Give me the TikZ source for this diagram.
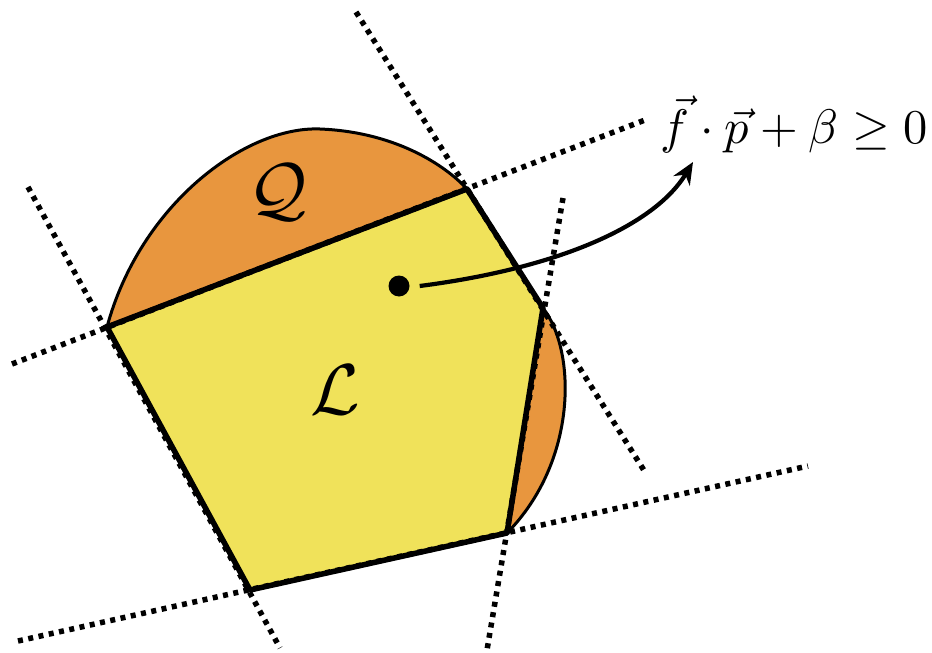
\documentclass[tikz,border=0pt]{standalone}
\usepackage{amsmath,amssymb}
\usetikzlibrary{arrows.meta}
\definecolor{qorange}{RGB}{232,150,62}
\definecolor{lyellow}{RGB}{240,226,90}
\begin{document}
\begin{tikzpicture}[x=1pt,y=-1pt,
  halfspace/.style={line width=5.5pt,dash pattern=on 5pt off 5.5pt},
  edge/.style={line width=5.5pt,line join=round},
  capline/.style={line width=3pt},
  biglabel/.style={inner sep=0pt}]
\useasboundingbox (0,0) rectangle (932,653);
% vertices
\coordinate (A) at (107,327);
\coordinate (B) at (467,189);
\coordinate (C) at (543,308);
\coordinate (D) at (507,533);
\coordinate (E) at (250,590);
% orange caps
\fill[qorange] (A) .. controls (140,205) and (245,126) .. (320,129)
  .. controls (395,132) and (445,165) .. (B) -- cycle;
\draw[capline] (A) .. controls (140,205) and (245,126) .. (320,129)
  .. controls (395,132) and (445,165) .. (B);
\fill[qorange] (C) .. controls (577,352) and (577,462) .. (D) -- cycle;
\draw[capline] (C) .. controls (577,352) and (577,462) .. (D);
% polygon L
\fill[lyellow] (A) -- (B) -- (C) -- (D) -- (E) -- cycle;
\draw[edge] (A) -- (B) -- (C) -- (D) -- (E) -- cycle;
% dotted supporting lines
\coordinate (ab1) at (12,364);
\coordinate (ab2) at (645,120);
\coordinate (bc1) at (356,12);
\coordinate (bc2) at (645,472);
\coordinate (cd1) at (563,198);
\coordinate (cd2) at (487,650);
\coordinate (de1) at (18,641);
\coordinate (de2) at (808,466);
\coordinate (ea1) at (28,187);
\coordinate (ea2) at (280,648);
\draw[halfspace] (ab1) -- (ab2);
\draw[halfspace] (bc1) -- (bc2);
\draw[halfspace] (cd1) -- (cd2);
\draw[halfspace] (de1) -- (de2);
\draw[halfspace] (ea1) -- (ea2);
% labels
\node[biglabel,scale=7.2] (Q) at (278,192) {$\mathcal{Q}$};
\node[biglabel,scale=7.2] (L) at (335,390) {$\mathcal{L}$};
% point and arrow
\node[circle,fill=black,inner sep=0pt,minimum size=21pt] (P) at (399,286) {};
\node[biglabel,anchor=base west,scale=4.85] (F) at (660,143) {$\vec f\cdot\vec p+\beta\ge 0$};
\coordinate (tip) at (693,162);
\draw[line width=4.2pt,-{Stealth[length=22pt,width=19pt]}]
  ([xshift=10pt]P.east) .. controls (560,268) and (655,225) .. (tip);
\end{tikzpicture}
\end{document}
